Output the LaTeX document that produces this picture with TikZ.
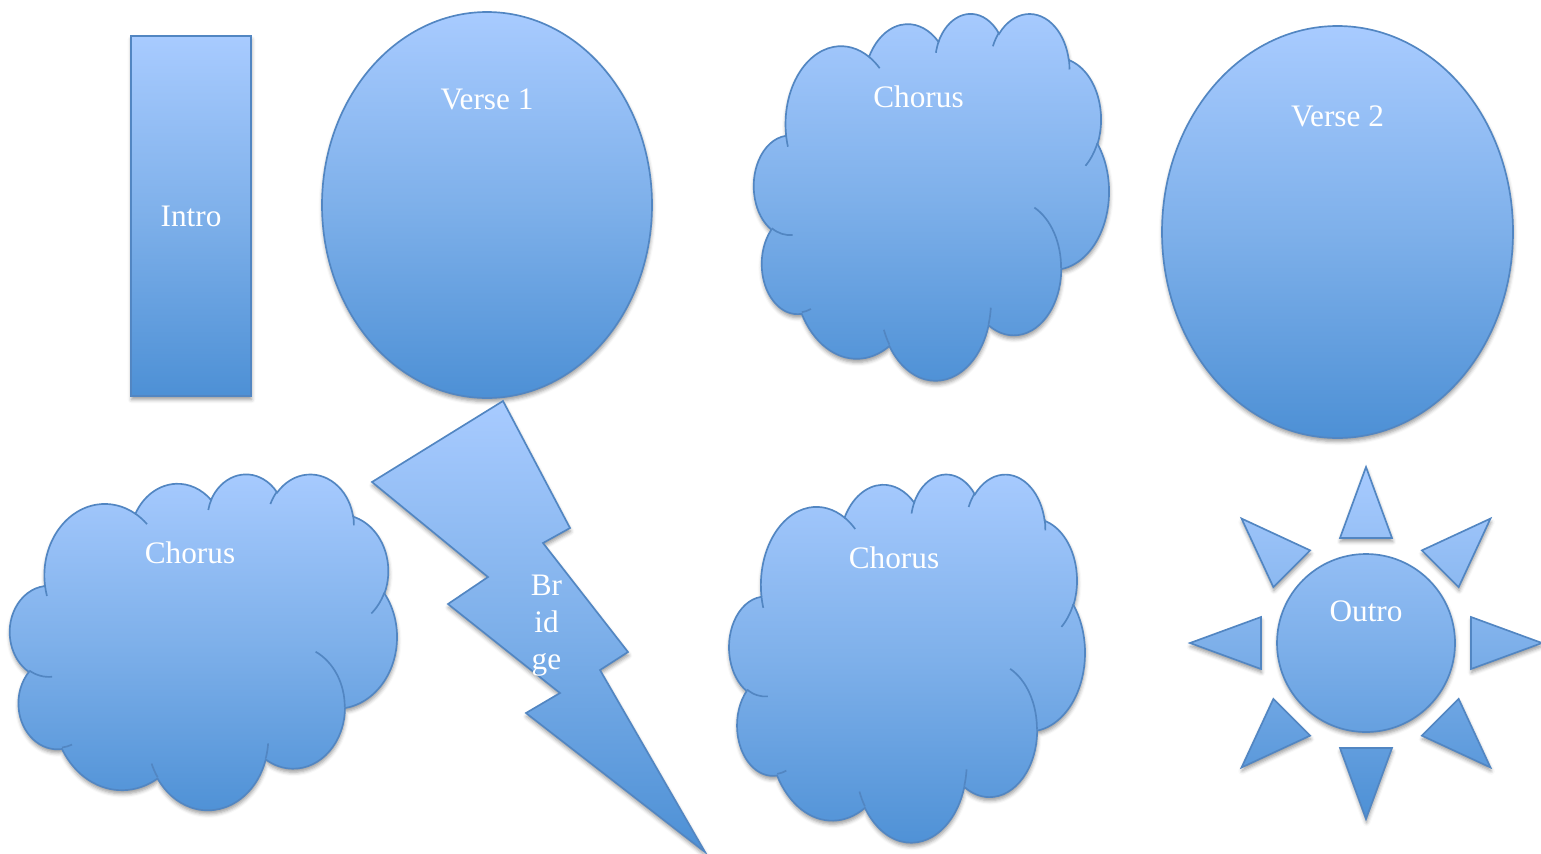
\documentclass[tikz,border=0pt]{standalone}
\usepackage{fontspec}
\setmainfont{Liberation Serif}
\usepackage{xcolor}
\usetikzlibrary{shapes.geometric,shadows.blur,calc}

\definecolor{shapetop}{RGB}{168,203,255}
\definecolor{shapemid}{RGB}{126,176,234}
\definecolor{shapebot}{RGB}{77,144,213}
\definecolor{shapeline}{RGB}{82,134,194}

\tikzset{
    blob/.style={
        draw=shapeline,
        line width=0.95pt,
        top color=shapetop,
        bottom color=shapebot,
        middle color=shapemid,
        blur shadow={shadow xshift=0.3pt, shadow yshift=-2pt,
            shadow blur radius=2.2pt, shadow opacity=40}
    },
    blobline/.style={
        draw=shapeline,
        line width=0.95pt
    },
    caption/.style={
        text=white,
        inner sep=0pt,
        font=\fontsize{17.8}{21}\selectfont
    }
}

% visual angle -> parametric angle on an ellipse
\pgfmathdeclarefunction{vis}{3}{%
  \begingroup
    \pgfmathparse{atan2(#1*sin(#3),#2*cos(#3))-(#3)}%
    \pgfmathparse{Mod(\pgfmathresult+180,360)-180+(#3)}%
    \pgfmathsmuggle\pgfmathresult
  \endgroup}

\newcommand{\carc}[4]{arc[x radius=#1, y radius=#2,
  start angle={vis(#1,#2,#3)}, end angle={vis(#1,#2,#3+#4)}]}

\newcommand{\cloudshape}[5]{%
  \pgfmathsetmacro\cloudx{#4/432*0.02}%
  \pgfmathsetmacro\cloudy{-#5/432*0.02}%
  \begin{scope}[shift={(#2,#3)}]
  \begin{scope}[x=\cloudx cm, y=\cloudy cm]
    \path[blob] (39.00,143.70)
      \carc{67.53}{91.90}{-190.4875}{123.7805}
      \carc{53.33}{72.67}{-144.1024}{89.9452}
      \carc{43.65}{59.45}{-145.8079}{99.7230}
      \carc{48.57}{65.95}{-130.9861}{117.2417}
      \carc{53.33}{72.73}{-78.7089}{109.0269}
      \carc{67.75}{92.20}{-46.2673}{130.2690}
      \carc{57.85}{78.67}{0.6250}{114.0333}
      \carc{67.52}{92.15}{22.4516}{115.1726}
      \carc{77.20}{105.43}{66.2426}{75.7110}
      \carc{43.60}{59.18}{-274.9421}{146.7356}
      \carc{43.45}{59.45}{-246.8285}{152.5189}
      -- cycle;
    \draw[blobline]
      (46.93,261.77) \carc{43.45}{59.45}{86.7420}{26.4295}
      (69.28,348.99) \carc{43.60}{59.18}{73.6105}{11.4475}
      (164.78,390.90) \carc{67.52}{92.15}{137.6242}{14.0811}
      (288.27,347.51) \carc{67.52}{92.15}{6.4533}{15.9984}
      (341.29,229.54) \carc{57.85}{78.67}{-70.2924}{70.9174}
      (417.98,153.54) \carc{53.33}{72.73}{30.3180}{27.7515}
      (383.24,54.26) \carc{48.57}{65.95}{-13.7443}{14.8589}
      (290.78,39.52) \carc{48.57}{65.95}{-149.1815}{18.1954}
      (221.41,47.20) \carc{43.65}{59.45}{-163.4943}{17.6864}
      (140.00,51.92) \carc{67.53}{91.90}{-66.7070}{12.3194}
      (41.27,157.89) \carc{67.53}{91.90}{157.6544}{11.8582};
    \coordinate (#1) at (216,216);
  \end{scope}
  \end{scope}}

\begin{document}
\begin{tikzpicture}[x=0.02cm, y=-0.02cm]
  \def\px{0.02cm}
  \useasboundingbox (0,0) rectangle (1541,853);

  \node[blob, rectangle, inner sep=0pt, minimum width=120*\px,
    minimum height=360*\px, text=white,
    font=\fontsize{17.8}{21}\selectfont] (intro) at (191,216) {Intro};

  \node[blob, ellipse, inner sep=0pt, minimum width=330*\px,
    minimum height=386*\px] (verse1blob) at (487,205) {};

  \cloudshape{chorusAblob}{754}{12.7}{355}{367}

  \node[blob, ellipse, inner sep=0pt, minimum width=351*\px,
    minimum height=412*\px] (verse2blob) at (1337.5,232) {};

  \cloudshape{chorusBblob}{10}{473.3}{387}{336}

  \path[blob] (503,401) -- (570,528) -- (543,543) -- (628,652)
    -- (600,670) -- (705,852) -- (526,713) -- (560,693)
    -- (448,604) -- (488,577) -- (372,482) -- cycle;

  \cloudshape{chorusCblob}{729.3}{473.3}{355.7}{368.4}

  \coordinate (sun) at (1366,643);
  \path[blob] (sun) circle[radius=89]
    \foreach \a in {0,45,...,315} {
      ($(sun)+(\a:176)$) -- ($(sun)+(\a:105)+(\a+90:26)$)
      -- ($(sun)+(\a:105)+(\a-90:26)$) -- cycle
    };

  \node[caption, anchor=base] (verse1) at (487,109) {Verse 1};
  \node[caption, anchor=base] (chorusA) at (918.5,107) {Chorus};
  \node[caption, anchor=base] (verse2) at (1337.5,126) {Verse 2};
  \node[caption, anchor=base] (chorusB) at (190,563) {Chorus};
  \node[caption, align=center, anchor=north] (bridge) at (546.5,575) {Br\\id\\ge};
  \node[caption, anchor=base] (chorusC) at (894,568) {Chorus};
  \node[caption, anchor=base] (outro) at (1366,621.5) {Outro};
\end{tikzpicture}
\end{document}
